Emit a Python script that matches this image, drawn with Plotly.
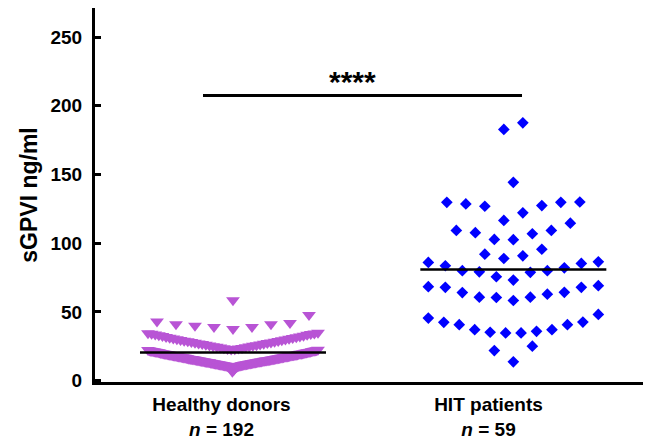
import numpy as np
import plotly.graph_objects as go

# ---------------- data ----------------
CATEGORIES = ["Healthy donors", "HIT patients"]
GROUP_N = [192, 59]
Y_TICKS = [0, 50, 100, 150, 200, 250]
SIGNIFICANCE = "****"

HEALTHY_SGPVI = [
    6.5, 7.6, 8.4, 9.0, 9.5, 9.8, 10.1, 10.3, 10.5, 10.7,
    10.8, 10.9, 11.0, 11.1, 11.2, 11.3, 11.4, 11.5, 11.6, 11.7, 11.8, 11.9,
    12.0, 12.1, 12.1, 12.2, 12.3, 12.4, 12.5, 12.6, 12.7, 12.8, 12.9, 13.0,
    13.1, 13.2, 13.3, 13.4, 13.4, 13.5, 13.6, 13.7, 13.8, 13.9,
    14.0, 14.0, 14.1, 14.2, 14.3, 14.4, 14.5, 14.6, 14.6, 14.7,
    14.8, 14.9, 15.0, 15.1, 15.2, 15.2, 15.3, 15.4, 15.5, 15.6,
    15.7, 15.8, 15.8, 15.9, 16.0, 16.1, 16.2, 16.3, 16.4, 16.5,
    16.6, 16.7, 16.8, 16.9, 17.0, 17.1, 17.2, 17.3, 17.3, 17.4, 17.5,
    17.6, 17.7, 17.8, 17.9, 18.0, 18.1, 18.2, 18.3, 18.4, 18.5, 18.5,
    18.6, 18.7, 18.8, 18.9, 19.0, 19.1, 19.2, 19.3, 19.4, 19.5, 19.5,
    19.6, 19.7, 19.8, 19.9, 20.0, 20.1, 20.2, 20.4, 20.5,
    20.6, 20.7, 20.8, 20.9, 21.0, 21.1, 21.2, 21.3, 21.4,
    21.5, 21.6, 21.7, 21.8, 21.9, 22.0, 22.1, 22.3, 22.4,
    22.6, 22.8, 23.1, 23.3, 23.6, 23.8, 24.1, 24.3, 24.6, 24.8,
    25.1, 25.3, 25.6, 25.8, 26.1, 26.3, 26.6, 26.8, 27.1, 27.3,
    27.6, 27.8, 28.1, 28.3, 28.6, 28.8, 29.1, 29.3, 29.6, 29.9,
    30.2, 30.4, 30.7, 31.0, 31.2, 31.5, 31.8, 32.1, 32.4, 32.7,
    33.0, 33.3, 33.6, 33.9, 34.1, 34.3, 34.5, 34.8,
    37.6, 39.0, 39.0, 40.0, 41.0, 41.0, 42.0, 43.0, 47.7, 58.5,
]

HIT_SGPVI = [
    13.7, 21.9, 25.1,
    34.7, 34.7, 35.2, 35.9, 37.1, 37.1, 40.7, 40.7, 42.4, 42.6, 45.5, 48.2,
    58.3, 60.5, 60.7, 60.7, 62.9, 64.1, 64.3, 67.9, 67.9, 68.4, 69.1,
    73.2, 75.6, 78.8, 79.2, 80.0, 80.0, 82.1, 83.6, 85.3, 86.0, 86.5,
    88.9, 90.8, 92.0, 95.6,
    102.6, 102.8, 106.9, 107.7, 109.3, 109.3, 114.6,
    116.6, 122.1, 126.9, 127.4, 128.6, 129.8, 129.8, 130.0,
    144.3, 182.8, 187.6,
]

# ---------------- layout constants ----------------
# (the page adds an 8 px body margin, so the figure is 8 px smaller than the window)
W, H = 643, 433
M_L, M_R, M_T, M_B = 87, 0, 0, 59
X_RANGE = [0.5262, 2.6086]
Y_RANGE = [-1.0, 271.2]
PX_PER_X = (W - M_L - M_R) / (X_RANGE[1] - X_RANGE[0])
GROUP_X = [1.043, 2.093]                 # centre of each scatter column
ROW_EDGES = [[22.5, 36.5, 52.0],          # value bins used to build dot rows
             [30, 53, 71, 87.7, 99, 115.6, 137, 160]]
STEP_PX, MAX_SPAN_PX = 19.0, 170.0
LINE_HALF_PX = 93.0
SIG_Y, STAR_Y = 207.5, 217.5
SIG_X = [0.9307, 2.1255]
STAR_X = 1.489
COLORS = ["#B854D5", "#0000FF"]
FONT = "Arial, 'Liberation Sans', sans-serif"


def column_positions(values, center, edges):
    """Prism-like scatter-dot layout: bin by value, spread each bin sideways."""
    v = np.asarray(values, dtype=float)
    rows = np.digitize(v, edges)
    xs = np.empty_like(v)
    for r in np.unique(rows):
        idx = np.where(rows == r)[0]
        order = idx[np.argsort(v[idx], kind="stable")]
        n = len(order)
        step = min(STEP_PX, MAX_SPAN_PX / (n - 1)) if n > 1 else 0.0
        for k, i in enumerate(order):
            if n % 2:
                slot = ((k + 1) // 2) * (-1 if k % 2 else 1)
            else:
                slot = (k // 2 + 0.5) * (-1 if k % 2 == 0 else 1)
            xs[i] = center + slot * step / PX_PER_X
    return xs


MARKERS = [
    dict(symbol="triangle-down", size=12, color=COLORS[0], line=dict(width=0)),
    dict(symbol="diamond", size=9, color=COLORS[1], line=dict(width=0)),
]

fig = go.Figure()
groups = [HEALTHY_SGPVI, HIT_SGPVI]
for g, vals in enumerate(groups):
    xs = column_positions(vals, GROUP_X[g], ROW_EDGES[g])
    fig.add_trace(go.Scatter(
        x=xs, y=vals, mode="markers", name=CATEGORIES[g],
        marker=MARKERS[g], showlegend=False, hoverinfo="y"))
    m = float(np.mean(vals))
    half = LINE_HALF_PX / PX_PER_X
    fig.add_shape(type="line", xref="x", yref="y",
                  x0=GROUP_X[g] - half, x1=GROUP_X[g] + half, y0=m, y1=m,
                  line=dict(color="black", width=2.5), layer="above")

# significance bar
fig.add_shape(type="line", xref="x", yref="y", x0=SIG_X[0], x1=SIG_X[1],
              y0=SIG_Y, y1=SIG_Y, line=dict(color="black", width=3))
fig.add_annotation(x=STAR_X, y=STAR_Y, xref="x", yref="y",
                   text=SIGNIFICANCE, showarrow=False,
                   font=dict(family=FONT, size=30, color="black", weight="bold"),
                   yanchor="middle")

tick_text = [f"{c}<br><i>n</i> = {n}" for c, n in zip(CATEGORIES, GROUP_N)]

fig.update_layout(
    width=W, height=H, margin=dict(l=M_L, r=M_R, t=M_T, b=M_B),
    plot_bgcolor="white", paper_bgcolor="white",
    font=dict(family=FONT, color="black"),
    xaxis=dict(range=X_RANGE, tickvals=[1, 2], ticktext=tick_text,
               showline=True, linecolor="black", linewidth=3, ticks="",
               showgrid=False, zeroline=False, fixedrange=True,
               tickfont=dict(family=FONT, size=19, color="black", weight="bold"),
               ticklabelstandoff=3),
    yaxis=dict(range=Y_RANGE, tickvals=Y_TICKS, showline=True, linecolor="black",
               linewidth=3, ticks="inside", ticklen=6, tickwidth=2.5,
               tickcolor="black", showgrid=False, zeroline=False,
               tickfont=dict(family=FONT, size=19, color="black", weight="bold"),
               ticklabelstandoff=6,
               title=dict(text="sGPVI ng/ml", standoff=7,
                          font=dict(family=FONT, size=23, color="black",
                                    weight="bold"))),
)

fig.write_html("out.html")
